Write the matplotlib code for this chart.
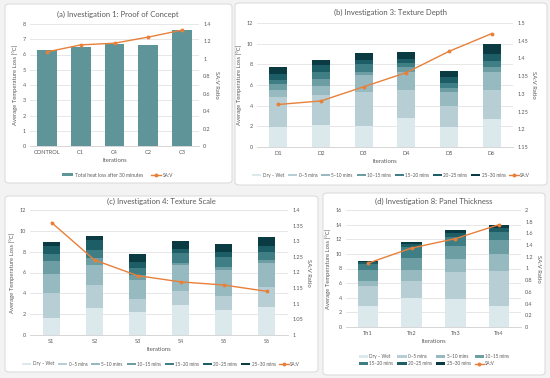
import matplotlib
matplotlib.use("Agg")
import matplotlib.pyplot as plt
from matplotlib.patches import FancyBboxPatch, Patch
from matplotlib.lines import Line2D
import numpy as np

plt.rcParams['font.family'] = ['Lato', 'DejaVu Sans']

# ---------------- data ----------------
stages = ["Dry \u2013 Wet", "0\u20135 mins", "5\u201310 mins", "10\u201315 mins",
          "15\u201320 mins", "20\u201325 mins", "25\u201330 mins"]

# (a) Investigation 1
a_cats = ["CONTROL", "C1", "C4", "C2", "C3"]
a_total = [6.3, 6.5, 6.7, 6.6, 7.6]
a_sav = [1.08, 1.16, 1.18, 1.25, 1.33]

# (b) Investigation 3 - stacked increments per stage
b_cats = ["D1", "D2", "D3", "D4", "D5", "D6"]
b_dry = [1.95, 2.15, 2.0, 2.85, 1.95, 2.75]
b_0_5 = [2.85, 2.85, 3.3, 2.7, 2.0, 2.8]
b_5_10 = [0.75, 0.95, 1.7, 1.7, 1.35, 1.7]
b_10_15 = [0.5, 0.65, 0.3, 0.45, 0.45, 0.45]
b_15_20 = [0.45, 0.65, 0.75, 0.4, 0.45, 0.65]
b_20_25 = [0.6, 0.65, 0.4, 0.4, 0.55, 0.65]
b_25_30 = [0.65, 0.5, 0.65, 0.67, 0.59, 0.97]
b_sav = [1.27, 1.28, 1.32, 1.36, 1.42, 1.47]

# (c) Investigation 4
c_cats = ["S1", "S2", "S3", "S4", "S5", "S6"]
c_dry = [1.6, 2.6, 2.2, 2.9, 2.4, 2.65]
c_0_5 = [2.4, 2.2, 1.25, 1.3, 1.35, 1.95]
c_5_10 = [1.9, 1.9, 1.8, 2.5, 2.5, 2.35]
c_10_15 = [1.25, 0.65, 0.5, 0.2, 0.3, 0.25]
c_15_20 = [0.6, 0.85, 0.7, 0.95, 0.95, 0.8]
c_20_25 = [0.75, 0.9, 0.6, 0.4, 0.5, 0.5]
c_25_30 = [0.4, 0.4, 0.7, 0.75, 0.7, 0.95]
c_sav = [1.36, 1.24, 1.19, 1.17, 1.16, 1.14]

# (d) Investigation 8
d_cats = ["Th1", "Th2", "Th3", "Th4"]
d_dry = [2.9, 3.9, 3.8, 2.85]
d_0_5 = [2.65, 2.35, 3.75, 4.8]
d_5_10 = [0.7, 1.5, 1.8, 2.3]
d_10_15 = [1.6, 1.75, 1.75, 2.0]
d_15_20 = [0.7, 1.45, 1.25, 1.05]
d_20_25 = [0.3, 0.45, 0.55, 0.55]
d_25_30 = [0.24, 0.29, 0.3, 0.45]
d_sav = [1.09, 1.35, 1.51, 1.75]

# ---------------- styles ----------------
W, H = 550, 378
shades = ["#dce9ec", "#b7ced5", "#97bac1", "#6c9ea4", "#3f7e85", "#1c5d66", "#0b3b42"]
orange = "#e8803a"
grid_c = "#e3e3e3"
txt_c = "#595959"

fig = plt.figure(figsize=(W / 100, H / 100), dpi=100)
fig.patch.set_facecolor("#f3f3f3")


def panel(x0, y0, x1, y1):
    p = FancyBboxPatch((x0 / W, 1 - y1 / H), (x1 - x0) / W, (y1 - y0) / H,
                       boxstyle="round,pad=0,rounding_size=0.008",
                       transform=fig.transFigure, facecolor="white",
                       edgecolor="#d4d4d4", linewidth=0.6, zorder=-5)
    fig.patches.append(p)


def make_ax(x0, y0, x1, y1):
    ax = fig.add_axes([x0 / W, 1 - y1 / H, (x1 - x0) / W, (y1 - y0) / H])
    ax.set_facecolor("none")
    return ax


def style(ax, ax2, ymax, ystep, r0, r1, rstep, cats, title, tx, ty):
    ax.set_ylim(0, ymax)
    ax.set_yticks(np.arange(0, ymax + 0.001, ystep))
    ax.set_yticklabels([f"{v:g}" for v in np.arange(0, ymax + 0.001, ystep)])
    ax.yaxis.grid(True, color=grid_c, linewidth=0.6)
    ax.set_axisbelow(True)
    for s in ["top", "right", "left"]:
        ax.spines[s].set_visible(False)
        ax2.spines[s].set_visible(False)
    ax.spines["bottom"].set_color("#d0d0d0")
    ax.spines["bottom"].set_linewidth(0.6)
    ax2.spines["bottom"].set_visible(False)
    ax.tick_params(axis="both", length=0, labelsize=4.0, colors=txt_c, pad=3)
    ax.set_xticks(range(len(cats)))
    ax.set_xticklabels(cats, fontsize=4.1)
    ax.set_xlim(-0.5, len(cats) - 0.5)
    rt = np.arange(r0, r1 + 1e-6, rstep)
    ax2.set_ylim(r0, r1)
    ax2.set_yticks(rt)
    ax2.set_yticklabels([f"{round(v, 2):g}" for v in rt])
    ax2.tick_params(axis="y", length=0, labelsize=4.0, colors=txt_c, pad=3)
    ax.set_ylabel("Average Temperature Loss [\u00b0C]", fontsize=4.2, color=txt_c, labelpad=3)
    ax2.set_ylabel("SA:V Ratio", fontsize=4.2, color=txt_c, rotation=-90, labelpad=6)
    ax.set_xlabel("Iterations", fontsize=4.2, color=txt_c, labelpad=2)
    fig.text(tx / W, 1 - ty / H, title, fontsize=5.5, color="#595959",
             ha="center", va="center")


def stacked(ax, cats, layers, width):
    x = np.arange(len(cats))
    bottom = np.zeros(len(cats))
    for vals, col, lab in zip(layers, shades, stages):
        ax.bar(x, vals, width, bottom=bottom, color=col, label=lab, zorder=2)
        bottom += np.array(vals)


def legend_handles():
    h = [Patch(facecolor=c, edgecolor="none") for c in shades]
    h.append(Line2D([0], [0], color=orange, lw=1, marker="o", ms=1.8))
    return h


# ---------------- panel a ----------------
panel(5, 4, 232, 183)
ax = make_ax(30, 24, 199, 146)
ax2 = ax.twinx()
x = np.arange(len(a_cats))
ax.bar(x, a_total, 0.59, color="#5f9598", zorder=2)
ax2.plot(x, a_sav, color=orange, lw=1, marker="o", ms=1.8)
style(ax, ax2, 8, 1, 0, 1.4, 0.2, a_cats, "(a) Investigation 1: Proof of Concept", 118, 14)
fig.legend([Patch(facecolor="#5f9598"), Line2D([0], [0], color=orange, lw=1, marker="o", ms=1.8)],
           ["Total heat loss after 30 minutes", "SA:V"], loc="center",
           bbox_to_anchor=(118 / W, 1 - 175 / H), ncol=2, frameon=False,
           fontsize=3.5, handlelength=2.2, handleheight=0.5, columnspacing=1.5,
           handletextpad=0.4, labelcolor=txt_c)

# ---------------- panel b ----------------
panel(235, 3, 547, 185)
ax = make_ax(257, 23, 513, 147)
ax2 = ax.twinx()
stacked(ax, b_cats, [b_dry, b_0_5, b_5_10, b_10_15, b_15_20, b_20_25, b_25_30], 0.42)
ax2.plot(np.arange(len(b_cats)), b_sav, color=orange, lw=1, marker="o", ms=1.8)
style(ax, ax2, 12, 2, 1.15, 1.5, 0.05, b_cats, "(b) Investigation 3: Texture Depth", 391, 12)
fig.legend(legend_handles(), stages + ["SA:V"], loc="center",
           bbox_to_anchor=(391 / W, 1 - 175 / H), ncol=8, frameon=False,
           fontsize=3.3, handlelength=2.0, handleheight=0.5, columnspacing=0.8,
           handletextpad=0.3, labelcolor=txt_c)

# ---------------- panel c ----------------
panel(5, 196, 318, 372)
ax = make_ax(30, 210, 288, 335)
ax2 = ax.twinx()
stacked(ax, c_cats, [c_dry, c_0_5, c_5_10, c_10_15, c_15_20, c_20_25, c_25_30], 0.4)
ax2.plot(np.arange(len(c_cats)), c_sav, color=orange, lw=1, marker="o", ms=1.8)
style(ax, ax2, 12, 2, 1.0, 1.4, 0.05, c_cats, "(c) Investigation 4: Texture Scale", 161, 201)
fig.legend(legend_handles(), stages + ["SA:V"], loc="center",
           bbox_to_anchor=(161 / W, 1 - 364 / H), ncol=8, frameon=False,
           fontsize=3.3, handlelength=2.0, handleheight=0.5, columnspacing=0.8,
           handletextpad=0.3, labelcolor=txt_c)

# ---------------- panel d ----------------
panel(323, 193, 545, 375)
ax = make_ax(346, 210, 521, 327)
ax2 = ax.twinx()
stacked(ax, d_cats, [d_dry, d_0_5, d_5_10, d_10_15, d_15_20, d_20_25, d_25_30], 0.47)
ax2.plot(np.arange(len(d_cats)), d_sav, color=orange, lw=1, marker="o", ms=1.8)
style(ax, ax2, 16, 2, 0, 2, 0.2, d_cats, "(d) Investigation 8: Panel Thickness", 434, 201)
h = legend_handles()
labs = stages + ["SA:V"]
order = [0, 4, 1, 5, 2, 6, 3, 7]
fig.legend([h[i] for i in order], [labs[i] for i in order], loc="center",
           bbox_to_anchor=(434 / W, 1 - 360 / H), ncol=4, frameon=False,
           fontsize=3.3, handlelength=2.0, handleheight=0.5, columnspacing=0.9,
           handletextpad=0.3, labelspacing=0.5, labelcolor=txt_c)

fig.savefig("out.png", dpi=100, facecolor=fig.get_facecolor())
